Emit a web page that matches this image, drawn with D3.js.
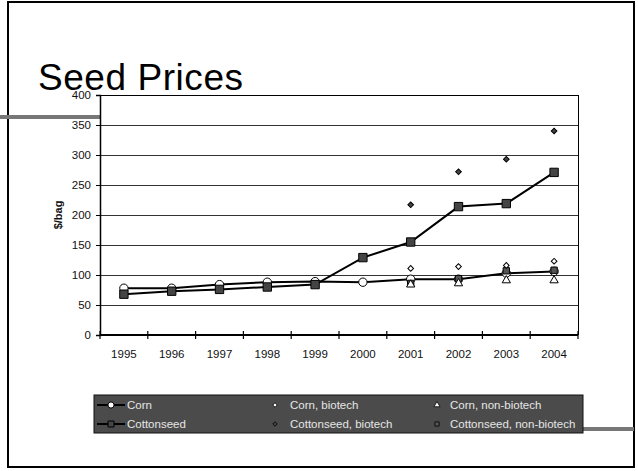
<!DOCTYPE html>
<html><head><meta charset="utf-8">
<script src="https://cdn.jsdelivr.net/npm/d3@7/dist/d3.min.js"></script>
<style>body{margin:0;background:#fff;}svg{display:block;font-family:"Liberation Sans",Arial,sans-serif;}</style>
</head><body>
<svg id="c" width="638" height="471"></svg>
<script>
const years = ["1995","1996","1997","1998","1999","2000","2001","2002","2003","2004"];
const yTicks = [0,50,100,150,200,250,300,350,400];
const corn = [78,78,84,88,89,88,93,93,103,106];
const cottonseed = [68,73,76,80,84,129,155,214,219,271];
const bioYears = ["2001","2002","2003","2004"];
const cornBiotech = [111,114,116,123];
const cornNonBiotech = [84,86,91,91];
const cottonBiotech = [217,272,293,340];
const cottonNonBiotech = [86,94,107,108];

const svg = d3.select("#c");
svg.append("rect").attr("x",8).attr("y",2).attr("width",626).attr("height",465)
  .attr("fill","#fff").attr("stroke","#000").attr("stroke-width",2);
svg.append("rect").attr("x",0).attr("y",115).attr("width",318).attr("height",4).attr("fill","#777");
svg.append("rect").attr("x",560).attr("y",427).attr("width",74).attr("height",4).attr("fill","#777");

svg.append("text").attr("x",38).attr("y",90).attr("font-size",37).attr("fill","#000")
  .attr("textLength",205).text("Seed Prices");

const L=100,R=578,T=95,B=335;
const x = d3.scaleBand().domain(years).range([L,R]);
const y = d3.scaleLinear().domain([0,400]).range([B,T]);
const cx = d => x(d)+x.bandwidth()/2;

const plot = svg.append("g");
plot.append("rect").attr("x",L).attr("y",T).attr("width",R-L).attr("height",B-T).attr("fill","#fff");
plot.selectAll("line.grid").data(yTicks.filter(v=>v>0)).enter().append("line")
  .attr("x1",L).attr("x2",R).attr("y1",d=>y(d)).attr("y2",d=>y(d))
  .attr("stroke",d=>d===400?"#000":"#333").attr("stroke-width",1).attr("shape-rendering","crispEdges");
plot.append("line").attr("x1",R).attr("x2",R).attr("y1",T).attr("y2",B).attr("stroke","#000").attr("shape-rendering","crispEdges");

const ya = svg.append("g").attr("transform",`translate(${L},0)`)
  .call(d3.axisLeft(y).tickValues(yTicks).tickSize(4).tickPadding(5));
ya.select(".domain").attr("stroke","#000").attr("stroke-width",1.5);
ya.selectAll("text").attr("font-size",11.5).attr("fill","#111").attr("font-family","Liberation Sans, Arial");

const xa = svg.append("g").attr("transform",`translate(0,${B})`);
xa.append("line").attr("x1",L).attr("x2",R).attr("y1",0).attr("y2",0).attr("stroke","#000").attr("stroke-width",2);
const bounds = years.map(d=>x(d)).concat([R]);
xa.selectAll("line.t").data(bounds).enter().append("line")
  .attr("x1",d=>d).attr("x2",d=>d).attr("y1",-4).attr("y2",4).attr("stroke","#000").attr("stroke-width",1.2);
xa.selectAll("text").data(years).enter().append("text")
  .attr("x",d=>cx(d)).attr("y",23).attr("text-anchor","middle").attr("font-size",11.5).attr("fill","#111").text(d=>d);

svg.append("text").attr("transform",`translate(62,215) rotate(-90)`).attr("text-anchor","middle")
  .attr("font-size",11).attr("font-weight","bold").attr("fill","#111").text("$/bag");

const line = d3.line().x((d,i)=>cx(years[i])).y(d=>y(d));
plot.append("path").datum(corn).attr("d",line).attr("fill","none").attr("stroke","#000").attr("stroke-width",2);
plot.append("path").datum(cottonseed).attr("d",line).attr("fill","none").attr("stroke","#000").attr("stroke-width",2);

const sym = (type,size)=>d3.symbol().type(type).size(size)();
function marks(xs, vals, type, size, fill, rot){
  plot.selectAll(null).data(vals).enter().append("path")
    .attr("transform",(d,i)=>`translate(${cx(xs[i])},${y(d)}) rotate(${rot||0})`)
    .attr("d",sym(type,size)).attr("fill",fill).attr("stroke","#000").attr("stroke-width",1);
}
marks(years, corn, d3.symbolCircle, 55, "#fff");
marks(years, cottonseed, d3.symbolSquare, 70, "#444");
marks(bioYears, cottonNonBiotech, d3.symbolSquare, 40, "#555");
marks(bioYears, cornNonBiotech, d3.symbolTriangle, 30, "#fff");
marks(bioYears, cornBiotech, d3.symbolSquare, 16, "#fff", 45);
marks(bioYears, cottonBiotech, d3.symbolSquare, 16, "#444", 45);

const lg = svg.append("g");
lg.append("rect").attr("x",94).attr("y",395).attr("width",489).attr("height",38)
  .attr("fill","#4b4b4b").attr("stroke","#111").attr("stroke-width",1);
const legendItems = [
  {name:"Corn", col:0,row:0, type:d3.symbolCircle, size:30, fill:"#fff", line:true},
  {name:"Cottonseed", col:0,row:1, type:d3.symbolSquare, size:36, fill:"#444", line:true},
  {name:"Corn, biotech", col:1,row:0, type:d3.symbolSquare, size:10, fill:"#fff", rot:45},
  {name:"Cottonseed, biotech", col:1,row:1, type:d3.symbolSquare, size:10, fill:"#444", rot:45},
  {name:"Corn, non-biotech", col:2,row:0, type:d3.symbolTriangle, size:16, fill:"#fff"},
  {name:"Cottonseed, non-biotech", col:2,row:1, type:d3.symbolSquare, size:18, fill:"#555"}
];
const colMark=[111,275,437], colText=[127,290,450], rowY=[405,424];
legendItems.forEach(it=>{
  const mx=colMark[it.col], my=rowY[it.row];
  if(it.line) lg.append("line").attr("x1",97).attr("x2",125).attr("y1",my).attr("y2",my).attr("stroke","#000").attr("stroke-width",2);
  lg.append("path").attr("transform",`translate(${mx},${my}) rotate(${it.rot||0})`).attr("d",sym(it.type,it.size))
    .attr("fill",it.fill).attr("stroke","#000").attr("stroke-width",it.line?1:0.8);
  lg.append("text").attr("x",colText[it.col]).attr("y",my+4).attr("font-size",11.5).attr("fill","#e6e6e6").text(it.name);
});
</script>
</body></html>
